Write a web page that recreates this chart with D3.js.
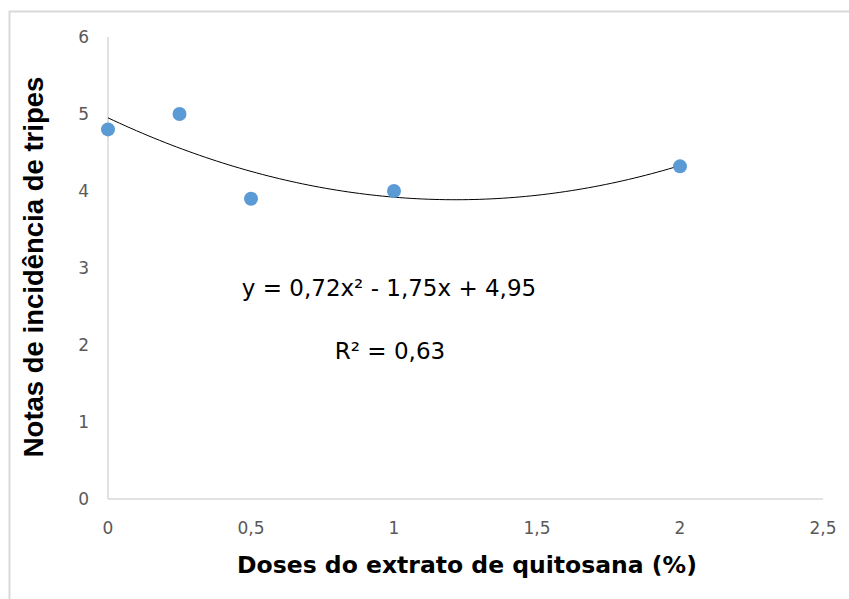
<!DOCTYPE html>
<html>
<head>
<meta charset="utf-8">
<script src="https://cdn.jsdelivr.net/npm/d3@7"></script>
<style>
  body { margin: 0; background: #fff; }
</style>
</head>
<body>
<svg id="chart"></svg>
<script>
// chart size
width = 849;
height = 599;

// data
const doses = [0, 0.25, 0.5, 1, 2];
const notas = [4.8, 5.0, 3.9, 4.0, 4.32];
const xTicks = [0, 0.5, 1, 1.5, 2, 2.5];
const yTicks = [0, 1, 2, 3, 4, 5, 6];
// trend line coefficients (y = a x² + b x + c)
const coef = [0.72, -1.75, 4.95];
const eqLabel = "y = 0,72x² - 1,75x + 4,95";
const r2Label = "R² = 0,63";

const svg = d3.select("#chart")
  .attr("width", width)
  .attr("height", height);

// outer frame
svg.append("rect")
  .attr("x", 9.5).attr("y", 11.5)
  .attr("width", 860).attr("height", 620)
  .attr("fill", "#fff")
  .attr("stroke", "#d9d9d9")
  .attr("stroke-width", 2);

const x = d3.scaleLinear().domain([0, 2.5]).range([108, 823]);
const y = d3.scaleLinear().domain([0, 6]).range([499, 37]);

const fmt = (d) => String(d).replace(".", ",");

// axes lines
svg.append("line")
  .attr("x1", x(0)).attr("x2", x(0))
  .attr("y1", y(6)).attr("y2", y(0))
  .attr("stroke", "#d9d9d9").attr("stroke-width", 1.5);
svg.append("line")
  .attr("x1", x(0)).attr("x2", x(2.5))
  .attr("y1", y(0)).attr("y2", y(0))
  .attr("stroke", "#d9d9d9").attr("stroke-width", 1.5);

// tick labels
svg.append("g")
  .selectAll("text")
  .data(yTicks)
  .enter()
  .append("text")
  .attr("x", 89)
  .attr("y", (d) => y(d))
  .attr("dy", "0.35em")
  .attr("text-anchor", "end")
  .attr("font-family", "DejaVu Sans, Verdana, sans-serif")
  .attr("font-size", 17)
  .attr("fill", "#595959")
  .text((d) => fmt(d));

svg.append("g")
  .selectAll("text")
  .data(xTicks)
  .enter()
  .append("text")
  .attr("x", (d) => x(d))
  .attr("y", 534)
  .attr("text-anchor", "middle")
  .attr("font-family", "DejaVu Sans, Verdana, sans-serif")
  .attr("font-size", 17)
  .attr("fill", "#595959")
  .text((d) => fmt(d));

// trend line
const trend = d3.range(0, 2.0001, 0.02).map((v) => [v, coef[0] * v * v + coef[1] * v + coef[2]]);
svg.append("path")
  .datum(trend)
  .attr("fill", "none")
  .attr("stroke", "#000")
  .attr("stroke-width", 1)
  .attr("d", d3.line().x((d) => x(d[0])).y((d) => y(d[1])));

// points
svg.append("g")
  .selectAll("circle")
  .data(doses)
  .enter()
  .append("circle")
  .attr("cx", (d) => x(d))
  .attr("cy", (d, i) => y(notas[i]))
  .attr("r", 7)
  .attr("fill", "#5b9bd5");

// equation labels
svg.append("text")
  .attr("x", 389).attr("y", 296)
  .attr("text-anchor", "middle")
  .attr("font-family", "DejaVu Sans, Verdana, sans-serif")
  .attr("font-size", 23)
  .attr("fill", "#000")
  .text(eqLabel);
svg.append("text")
  .attr("x", 390).attr("y", 359)
  .attr("text-anchor", "middle")
  .attr("font-family", "DejaVu Sans, Verdana, sans-serif")
  .attr("font-size", 23)
  .attr("fill", "#000")
  .text(r2Label);

// axis titles
svg.append("text")
  .attr("x", 467).attr("y", 573)
  .attr("text-anchor", "middle")
  .attr("font-family", "DejaVu Sans, Verdana, sans-serif")
  .attr("font-weight", "bold")
  .attr("font-size", 23.5)
  .attr("fill", "#000")
  .text("Doses do extrato de quitosana (%)");

svg.append("text")
  .attr("transform", "translate(43,267) rotate(-90)")
  .attr("text-anchor", "middle")
  .attr("font-family", "Liberation Sans, Arial, sans-serif")
  .attr("font-weight", "bold")
  .attr("font-size", 27.5)
  .attr("fill", "#000")
  .text("Notas de incidência de tripes");
</script>
</body>
</html>
